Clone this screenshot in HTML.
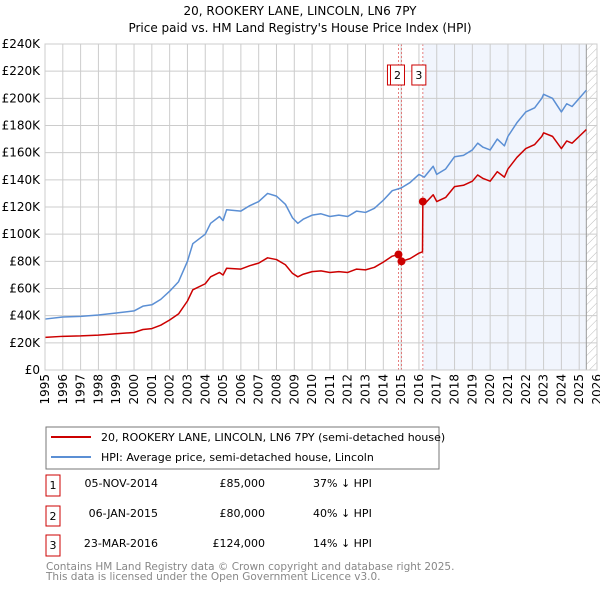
<!DOCTYPE html>
<html><head><meta charset="utf-8"><style>
body{margin:0;background:#fff;font-family:"Liberation Sans","DejaVu Sans",sans-serif}
svg text{font-family:"DejaVu Sans","Liberation Sans",sans-serif}
</style></head><body>
<svg id="c" width="600" height="590" xmlns="http://www.w3.org/2000/svg">
<defs><pattern id="hatch" width="6" height="6" patternUnits="userSpaceOnUse" patternTransform="rotate(45)"><line x1="0" y1="0" x2="0" y2="6" stroke="#bbb" stroke-width="1"/></pattern></defs>
<text x="300" y="15" text-anchor="middle" font-size="12">20, ROOKERY LANE, LINCOLN, LN6 7PY</text>
<text x="300" y="32" text-anchor="middle" font-size="12">Price paid vs. HM Land Registry's House Price Index (HPI)</text>
<g id="plot"></g>
<g>
<rect x="46" y="427" width="393" height="42" fill="#fff" stroke="#777"/>
<line x1="51" y1="437" x2="91" y2="437" stroke="#cc0000" stroke-width="2"/>
<text x="101" y="441" font-size="11">20, ROOKERY LANE, LINCOLN, LN6 7PY (semi-detached house)</text>
<line x1="51" y1="457" x2="91" y2="457" stroke="#5b8fd4" stroke-width="2"/>
<text x="101" y="461" font-size="11">HPI: Average price, semi-detached house, Lincoln</text>
</g>
<g font-size="11">
<rect x="46" y="475" width="14" height="21" fill="#fff" stroke="#cc0000"/><text x="53" y="489" text-anchor="middle">1</text>
<text x="158" y="487" text-anchor="end">05-NOV-2014</text><text x="265" y="487" text-anchor="end">£85,000</text><text x="313" y="487">37% ↓ HPI</text>
<rect x="46" y="506" width="14" height="20" fill="#fff" stroke="#cc0000"/><text x="53" y="520" text-anchor="middle">2</text>
<text x="158" y="517" text-anchor="end">06-JAN-2015</text><text x="265" y="517" text-anchor="end">£80,000</text><text x="313" y="517">40% ↓ HPI</text>
<rect x="46" y="535" width="14" height="21" fill="#fff" stroke="#cc0000"/><text x="53" y="549" text-anchor="middle">3</text>
<text x="158" y="547" text-anchor="end">23-MAR-2016</text><text x="265" y="547" text-anchor="end">£124,000</text><text x="313" y="547">14% ↓ HPI</text>
</g>
<text x="46" y="570" font-size="10.5" fill="#888">Contains HM Land Registry data © Crown copyright and database right 2025.</text>
<text x="46" y="580" font-size="10.5" fill="#888">This data is licensed under the Open Government Licence v3.0.</text>
</svg>
<script>
const hpiYears=[1995,1996,1997,1998,1999,2000,2000.5,2001,2001.5,2002,2002.5,2003,2003.3,2004,2004.3,2004.8,2005,2005.2,2006,2006.5,2007,2007.5,2008,2008.5,2008.9,2009.2,2009.5,2010,2010.5,2011,2011.5,2012,2012.5,2013,2013.5,2014,2014.5,2015,2015.5,2016,2016.3,2016.8,2017,2017.5,2018,2018.5,2019,2019.3,2019.6,2020,2020.4,2020.8,2021,2021.5,2022,2022.5,2022.9,2023,2023.5,2024,2024.3,2024.6,2025,2025.4];
const hpiValues=[37.5,39,39.5,40.5,42,43.5,47,48,52,58,65,80,93,100,108,113,110,118,117,121,124,130,128,122,112,108,111,114,115,113,114,113,117,116,119,125,132,134,138,144,142,150,144,148,157,158,162,167,164,162,170,165,172,182,190,193,200,203,200,190,196,194,200,206];
const redYears=[1995,1996,1997,1998,1999,2000,2000.5,2001,2001.5,2002,2002.5,2003,2003.3,2004,2004.3,2004.8,2005,2005.2,2006,2006.5,2007,2007.5,2008,2008.5,2008.9,2009.2,2009.5,2010,2010.5,2011,2011.5,2012,2012.5,2013,2013.5,2014,2014.5,2014.85,2015.02,2015.5,2016.0,2016.2,2016.22,2016.3,2016.8,2017,2017.5,2018,2018.5,2019,2019.3,2019.6,2020,2020.4,2020.8,2021,2021.5,2022,2022.5,2022.9,2023,2023.5,2024,2024.3,2024.6,2025,2025.4];
const redValues=[24,24.8,25.1,25.7,26.7,27.6,29.8,30.5,33,36.8,41.3,50.8,59,63.5,68.6,71.8,69.9,74.9,74.3,76.8,78.7,82.6,81.3,77.5,71.1,68.6,70.5,72.4,73,71.8,72.4,71.8,74.3,73.7,75.6,79.4,83.8,85,80,82,86,87,124,122,129,124,127,135,136,139,143.6,141,139,146,142,148,156.5,163,166,172,174.6,172,163,168.6,167,172,177];
const saleYears=[2014.85,2015.02,2016.22];
const saleValues=[85,80,124];
const saleLabels=["1","2","3"];
const yTicks=[0,20,40,60,80,100,120,140,160,180,200,220,240];
const xTicks=[];for(let y=1995;y<=2026;y++)xTicks.push(y);

const X0=45,X1=597,Y0=370,Y1=44;
const xs=y=>X0+(y-1995)/(2026-1995)*(X1-X0);
const ys=v=>Y0-v/240*(Y0-Y1);
const NS="http://www.w3.org/2000/svg";
const g=document.getElementById('plot');
function mk(t,a,p){const e=document.createElementNS(NS,t);for(const k in a)e.setAttribute(k,a[k]);(p||g).appendChild(e);return e;}
const sh=mk('rect',{x:xs(2016.22),y:Y1,width:xs(2025.4)-xs(2016.22),height:Y0-Y1,fill:'#eef3fc',opacity:0.8});


const ht=mk('rect',{x:xs(2025.4),y:Y1,width:X1-xs(2025.4),height:Y0-Y1,fill:'url(#hatch)'});


yTicks.forEach(v=>{
 const l=mk('line',{x1:X0,x2:X1,y1:ys(v),y2:ys(v),stroke:'#ccc'});
 
 
 const t=mk('text',{x:X0-5,y:ys(v)+4,'text-anchor':'end','font-size':12});
 
 
 t.textContent=v===0?'£0':'£'+v+'K';
});
xTicks.forEach(y=>{
 const l=mk('line',{x1:xs(y),x2:xs(y),y1:Y1,y2:Y0,stroke:'#ccc'});
 
 
 const t=mk('text',{x:0,y:0,'text-anchor':'end','font-size':12,transform:`translate(${xs(y)+4},${Y0+4}) rotate(-90)`});
 
 
 t.textContent=y;
});
const ed=mk('line',{x1:xs(2025.4),x2:xs(2025.4),y1:Y1,y2:Y0,stroke:'#999'});


saleYears.forEach((y,i)=>{
 const l=mk('line',{x1:xs(y),x2:xs(y),y1:Y1,y2:Y0,stroke:'#e06060','stroke-dasharray':'2,2','stroke-width':0.8});
 
 
});
function line(xa,va,col,name){
 const p=mk('polyline',{points:xa.map((y,i)=>xs(y)+','+ys(va[i])).join(' '),fill:'none',stroke:col,'stroke-width':1.5,'stroke-linejoin':'round'});
 
 
}
line(hpiYears,hpiValues,'#5b8fd4','hpi-line');
line(redYears,redValues,'#cc0000','price-paid-line');
saleYears.forEach((y,i)=>{
 const c=mk('circle',{cx:xs(y),cy:ys(saleValues[i]),r:4,fill:'#cc0000'});
 
 
});
saleYears.forEach((y,i)=>{
 const bx=xs(y)+3-14;
 const r=mk('rect',{x:bx,y:65,width:14,height:20,fill:'#fff',stroke:'#cc0000'});
 
 
 const t=mk('text',{x:bx+7,y:79,'text-anchor':'middle','font-size':11});
 
 
 t.textContent=saleLabels[i];
});
const bd=mk('rect',{x:X0,y:Y1,width:X1-X0,height:Y0-Y1,fill:'none',stroke:'#ccc'});


</script>
</body></html>
